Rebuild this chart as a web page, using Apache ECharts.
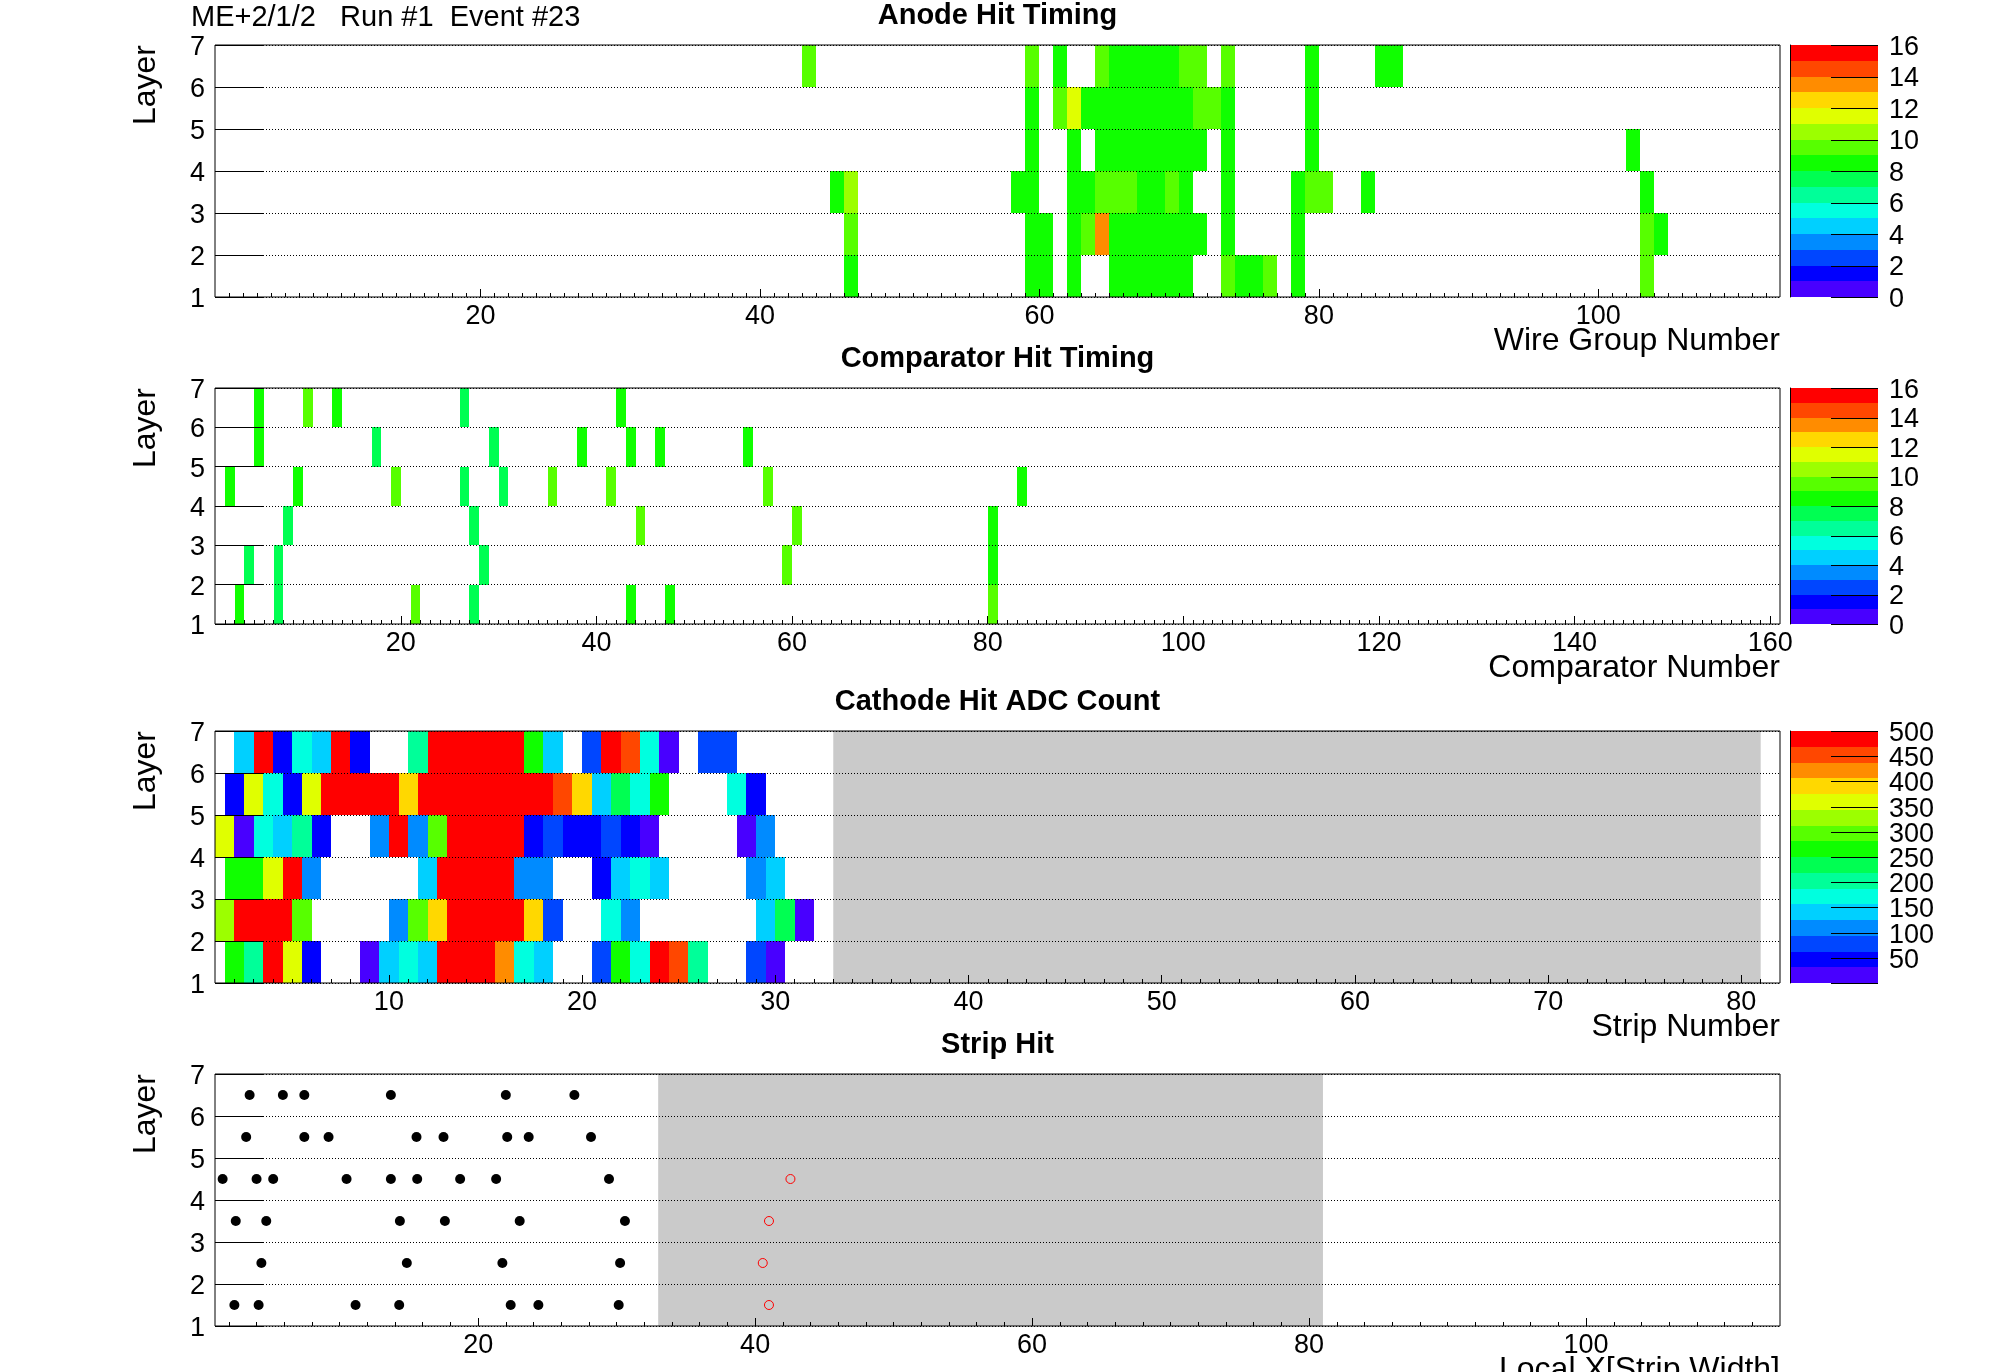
<!DOCTYPE html>
<html><head><meta charset="utf-8">
<script src="https://cdn.jsdelivr.net/npm/echarts@6/dist/echarts.min.js"></script>
<style>html,body{margin:0;padding:0;background:#fff}#c{width:1996px;height:1372px}</style>
</head><body><div id="c"></div>
<script>
// ================= DATA =================
const headerText = 'ME+2/1/2   Run #1  Event #23';
const panelTitles = ['Anode Hit Timing', 'Comparator Hit Timing', 'Cathode Hit ADC Count', 'Strip Hit'];
const xTitles = ['Wire Group Number', 'Comparator Number', 'Strip Number', 'Local X[Strip Width]'];
const yTitle = 'Layer';

const anodeXTicks = [20, 40, 60, 80, 100];
const compXTicks = [20, 40, 60, 80, 100, 120, 140, 160];
const cathXTicks = [10, 20, 30, 40, 50, 60, 70, 80];
const stripXTicks = [20, 40, 60, 80, 100];
const timeScaleTicks = [0, 2, 4, 6, 8, 10, 12, 14, 16];
const adcScaleTicks = [50, 100, 150, 200, 250, 300, 350, 400, 450, 500];

// Anode hits: [wire group, time bin]
const anodeL1 = [[46,8],[59,8],[60,8],[62,8],[65,8],[66,8],[67,8],[68,8],[69,8],[70,8],[73,9],[74,8],[75,8],[76,9],[78,8],[103,9]];
const anodeL2 = [[46,9],[59,8],[60,8],[62,8],[63,9],[64,13],[65,8],[66,8],[67,8],[68,8],[69,8],[70,8],[71,8],[73,8],[78,8],[103,9],[104,8]];
const anodeL3 = [[45,8],[46,10],[58,8],[59,8],[62,8],[63,8],[64,9],[65,9],[66,9],[67,8],[68,8],[69,9],[70,8],[73,8],[78,8],[79,9],[80,9],[83,8],[103,8]];
const anodeL4 = [[59,8],[62,8],[64,8],[65,8],[66,8],[67,8],[68,8],[69,8],[70,8],[71,8],[73,8],[79,8],[102,8]];
const anodeL5 = [[59,8],[61,9],[62,11],[63,8],[64,8],[65,8],[66,8],[67,8],[68,8],[69,8],[70,8],[71,9],[72,9],[73,8],[79,8]];
const anodeL6 = [[43,9],[59,9],[61,8],[64,9],[65,8],[66,8],[67,8],[68,8],[69,8],[70,9],[71,9],[73,9],[79,8],[84,8],[85,8]];

// Comparator hits: [comparator, time bin]
const compL1 = [[3,8],[7,7],[21,9],[27,7],[43,8],[47,8],[80,9]];
const compL2 = [[4,7],[7,7],[28,7],[59,9],[80,8]];
const compL3 = [[8,7],[27,7],[44,9],[60,9],[80,8]];
const compL4 = [[2,8],[9,8],[19,9],[26,7],[30,7],[35,9],[41,9],[57,9],[83,8]];
const compL5 = [[5,8],[17,7],[29,7],[38,8],[43,8],[46,8],[55,8]];
const compL6 = [[5,8],[10,9],[13,8],[26,7],[42,8]];

// Cathode hits: [strip position (staggered layers at half strips), ADC count]
const cathL1 = [[1.5,266],[2.5,203],[3.5,490],[4.5,359],[5.5,47],[8.5,16],[9.5,141],[10.5,172],[11.5,141],[12.5,490],[13.5,490],[14.5,490],[15.5,422],[16.5,172],[17.5,141],[20.5,78],[21.5,266],[22.5,172],[23.5,490],[24.5,453],[25.5,203],[28.5,78],[29.5,16]];
const cathL2 = [[1,328],[2,490],[3,490],[4,490],[5,297],[10,109],[11,297],[12,391],[13,490],[14,490],[15,490],[16,490],[17,391],[18,78],[21,172],[22,109],[29,141],[30,234],[31,16]];
const cathL3 = [[1.5,266],[2.5,266],[3.5,359],[4.5,490],[5.5,109],[11.5,141],[12.5,490],[13.5,490],[14.5,490],[15.5,490],[16.5,109],[17.5,109],[20.5,47],[21.5,141],[22.5,172],[23.5,141],[28.5,109],[29.5,141]];
const cathL4 = [[1,359],[2,16],[3,172],[4,141],[5,203],[6,47],[9,109],[10,490],[11,109],[12,297],[13,490],[14,490],[15,490],[16,490],[17,47],[18,78],[19,47],[20,47],[21,78],[22,47],[23,16],[28,16],[29,109]];
const cathL5 = [[1.5,47],[2.5,359],[3.5,172],[4.5,47],[5.5,359],[6.5,490],[7.5,490],[8.5,490],[9.5,490],[10.5,391],[11.5,490],[12.5,490],[13.5,490],[14.5,490],[15.5,490],[16.5,490],[17.5,490],[18.5,453],[19.5,391],[20.5,141],[21.5,234],[22.5,172],[23.5,266],[27.5,172],[28.5,47]];
const cathL6 = [[2,141],[3,490],[4,47],[5,172],[6,141],[7,490],[8,47],[11,203],[12,490],[13,490],[14,490],[15,490],[16,490],[17,266],[18,141],[20,78],[21,490],[22,453],[23,172],[24,16],[26,78],[27,78]];

// Strip hits: local x per layer
const stripL1 = [2.4, 4.15, 11.15, 14.3, 22.35, 24.35, 30.15];
const stripL2 = [4.35, 14.85, 21.75, 30.25];
const stripL3 = [2.5, 4.7, 14.35, 17.6, 23.0, 30.6];
const stripL4 = [1.55, 4.0, 5.2, 10.5, 13.7, 15.6, 18.7, 21.3, 29.45];
const stripL5 = [3.25, 7.45, 9.2, 15.55, 17.5, 22.1, 23.65, 28.15];
const stripL6 = [3.5, 5.9, 7.45, 13.7, 22.0, 26.95];
// open (red) hits: [layer, local x]
const openHits = [[1, 41.0], [2, 40.55], [3, 41.0], [4, 42.55]];

// inactive strip region
const deadRange = [33, 81];

// ================= STYLE / LAYOUT =================
const FONT = "'Liberation Sans', Arial, Helvetica, sans-serif";
const palette = ['#4800ff','#0000ff','#0046ff','#008bff','#00d0ff','#00ffdf','#00ff99','#00ff52','#10ff00','#57ff00','#9cff00','#e0ff00','#ffd800','#ff8c00','#ff4700','#ff0000'];
function colorOf(v, max) {
  let k = Math.floor(v / max * palette.length);
  k = Math.max(0, Math.min(palette.length - 1, k));
  return palette[k];
}

const L = 215, W = 1565, CBL = 1790, CBW = 88;
const panels = [
  { top: 45,   h: 252, xMin: 1, xMax: 113, majors: anodeXTicks, minorStep: 1, cb: { max: 16, interval: 2, labels: timeScaleTicks } },
  { top: 388,  h: 236, xMin: 1, xMax: 161, majors: compXTicks,  minorStep: 1, cb: { max: 16, interval: 2, labels: timeScaleTicks } },
  { top: 731,  h: 252, xMin: 1, xMax: 82,  majors: cathXTicks,  minorStep: 1, cb: { max: 500, interval: 50, labels: adcScaleTicks } },
  { top: 1074, h: 252, xMin: 1, xMax: 114, majors: stripXTicks, minorStep: 2, cb: null }
];

const grid = [], xAxis = [], yAxis = [], series = [], graphic = [];
const mainIdx = [];

panels.forEach((p, pi) => {
  const gMain = grid.length;
  grid.push({ left: L, top: p.top, width: W, height: p.h, show: true, borderColor: '#000', borderWidth: 1, z: 10, backgroundColor: 'transparent' });
  const minors = [];
  for (let v = p.xMin + 1; v < p.xMax; v += p.minorStep) if (p.majors.indexOf(v) < 0) minors.push(v);
  const xMajor = xAxis.length;
  xAxis.push({
    gridIndex: gMain, type: 'value', min: p.xMin, max: p.xMax, position: 'bottom', z: 10,
    axisLine: { show: false },
    axisTick: { show: true, inside: true, length: 8, customValues: p.majors, lineStyle: { color: '#000', width: 1 } },
    axisLabel: { show: true, customValues: p.majors, fontSize: 27, color: '#000', fontFamily: FONT, margin: 6 },
    splitLine: { show: false }
  });
  xAxis.push({
    gridIndex: gMain, type: 'value', min: p.xMin, max: p.xMax, position: 'bottom', offset: 0, z: 10,
    axisLine: { show: false },
    axisTick: { show: true, inside: true, length: 4, customValues: minors, lineStyle: { color: '#000', width: 1 } },
    axisLabel: { show: false },
    splitLine: { show: false }
  });
  const yMain = yAxis.length;
  yAxis.push({
    gridIndex: gMain, type: 'value', min: 1, max: 7, interval: 1, z: 10,
    axisLine: { show: false },
    axisTick: { show: true, inside: true, length: 48, lineStyle: { color: '#000', width: 1 } },
    axisLabel: { fontSize: 27, color: '#000', fontFamily: FONT, margin: 10, verticalAlign: 'top', lineHeight: 5, showMinLabel: true, showMaxLabel: true },
    splitLine: { show: true, lineStyle: { color: '#000', width: 1, type: [1, 2] } }
  });
  mainIdx.push({ x: xMajor, y: yMain });

  if (p.cb) {
    const gCb = grid.length;
    grid.push({ left: CBL, top: p.top, width: CBW, height: p.h, show: false });
    const xCb = xAxis.length;
    xAxis.push({ gridIndex: gCb, type: 'value', min: 0, max: 1, show: false });
    const yCb = yAxis.length;
    yAxis.push({
      gridIndex: gCb, type: 'value', min: 0, max: p.cb.max, interval: p.cb.interval, position: 'right', z: 10,
      axisLine: { show: true, lineStyle: { color: '#000', width: 1 } },
      axisTick: { show: false },
      axisLabel: { show: false },
      splitLine: { show: false }
    });
    const step = p.cb.max / palette.length;
    // colour bands
    series.push({
      type: 'custom', xAxisIndex: xCb, yAxisIndex: yCb, silent: true, z: 2,
      data: palette.map((c, k) => [0, k * step, k]),
      renderItem: (params, api) => {
        const k = api.value(2);
        const a = api.coord([0, (k + 1) * step]), b = api.coord([1, k * step]);
        const x0 = Math.round(a[0]), x1 = Math.round(b[0]), y0 = Math.round(a[1]), y1 = Math.round(b[1]);
        return { type: 'rect', shape: { x: x0, y: y0, width: x1 - x0, height: y1 - y0 }, style: { fill: palette[k] } };
      }
    });
    // tick marks, drawn inward from the right edge
    const tickVals = [];
    for (let v = 0; v <= p.cb.max; v += p.cb.interval) tickVals.push(v);
    series.push({
      type: 'custom', xAxisIndex: xCb, yAxisIndex: yCb, silent: true, z: 5,
      data: tickVals.map(v => [1, v]),
      renderItem: (params, api) => {
        const q = api.coord([1, api.value(1)]);
        const y = Math.round(q[1]) + 0.5;
        return { type: 'line', shape: { x1: q[0] - 47, y1: y, x2: q[0], y2: y }, style: { stroke: '#000', lineWidth: 1 } };
      }
    });
    // scale labels
    series.push({
      type: 'custom', xAxisIndex: xCb, yAxisIndex: yCb, silent: true, z: 5,
      data: p.cb.labels.map(v => [1, v]),
      renderItem: (params, api) => {
        const v = api.value(1);
        const q = api.coord([1, v]);
        return { type: 'text', x: q[0] + 11, y: q[1] + 2.5,
          style: { text: String(v), font: '27px ' + FONT, fill: '#000', align: 'left', verticalAlign: 'middle', textAlign: 'left', textVerticalAlign: 'middle' } };
      }
    });
  }

  graphic.push({ type: 'text', x: L + W / 2, y: p.top - 29, silent: true,
    style: { text: panelTitles[pi], font: 'bold 29px ' + FONT, fill: '#000', align: 'center', verticalAlign: 'middle', textAlign: 'center', textVerticalAlign: 'middle' } });
  graphic.push({ type: 'text', x: L + W, y: p.top + p.h + 44, silent: true,
    style: { text: xTitles[pi], font: '32px ' + FONT, fill: '#000', align: 'right', verticalAlign: 'middle', textAlign: 'right', textVerticalAlign: 'middle' } });
  graphic.push({ type: 'text', x: 146, y: p.top, rotation: Math.PI / 2, silent: true,
    style: { text: yTitle, font: '32px ' + FONT, fill: '#000', align: 'right', verticalAlign: 'middle', textAlign: 'right', textVerticalAlign: 'middle' } });
});
graphic.push({ type: 'text', x: 191, y: 18, silent: true,
  style: { text: headerText, font: '29px ' + FONT, fill: '#000', align: 'left', verticalAlign: 'middle', textAlign: 'left', textVerticalAlign: 'middle' } });

function cellSeries(layers, max, idx) {
  const data = [];
  layers.forEach((arr, i) => arr.forEach(d => data.push([d[0], i + 1, d[1]])));
  return {
    type: 'custom', xAxisIndex: idx.x, yAxisIndex: idx.y, silent: true, z: 2, data,
    renderItem: (params, api) => {
      const x = api.value(0), y = api.value(1), v = api.value(2);
      const a = api.coord([x, y + 1]), b = api.coord([x + 1, y]);
      const x0 = Math.round(a[0]), x1 = Math.round(b[0]), y0 = Math.round(a[1]), y1 = Math.round(b[1]);
      return { type: 'rect', shape: { x: x0, y: y0, width: x1 - x0, height: y1 - y0 }, style: { fill: colorOf(v, max) } };
    }
  };
}
function deadSeries(idx) {
  return {
    type: 'custom', xAxisIndex: idx.x, yAxisIndex: idx.y, silent: true, z: 1,
    data: [[deadRange[0], 1, deadRange[1], 7]],
    renderItem: (params, api) => {
      const a = api.coord([api.value(0), api.value(3)]), b = api.coord([api.value(2), api.value(1)]);
      return { type: 'rect', shape: { x: a[0], y: a[1], width: b[0] - a[0], height: b[1] - a[1] }, style: { fill: '#cacaca' } };
    }
  };
}

series.push(cellSeries([anodeL1, anodeL2, anodeL3, anodeL4, anodeL5, anodeL6], 16, mainIdx[0]));
series.push(cellSeries([compL1, compL2, compL3, compL4, compL5, compL6], 16, mainIdx[1]));
series.push(deadSeries(mainIdx[2]));
series.push(cellSeries([cathL1, cathL2, cathL3, cathL4, cathL5, cathL6], 500, mainIdx[2]));
series.push(deadSeries(mainIdx[3]));

const stripPts = [];
[stripL1, stripL2, stripL3, stripL4, stripL5, stripL6].forEach((arr, i) => arr.forEach(x => stripPts.push([x, i + 1.5])));
series.push({
  type: 'scatter', xAxisIndex: mainIdx[3].x, yAxisIndex: mainIdx[3].y, silent: true, z: 3,
  symbol: 'circle', symbolSize: 10, data: stripPts, itemStyle: { color: '#000', opacity: 1 }
});
series.push({
  type: 'scatter', xAxisIndex: mainIdx[3].x, yAxisIndex: mainIdx[3].y, silent: true, z: 3,
  symbol: 'circle', symbolSize: 9, data: openHits.map(d => [d[1], d[0] + 0.5]),
  itemStyle: { color: 'rgba(0,0,0,0)', borderColor: '#ff0000', borderWidth: 1, opacity: 1 }
});

const chart = echarts.init(document.getElementById('c'), null, { renderer: 'canvas' });
chart.setOption({
  animation: false,
  backgroundColor: '#ffffff',
  grid, xAxis, yAxis, series, graphic
});
</script></body></html>
